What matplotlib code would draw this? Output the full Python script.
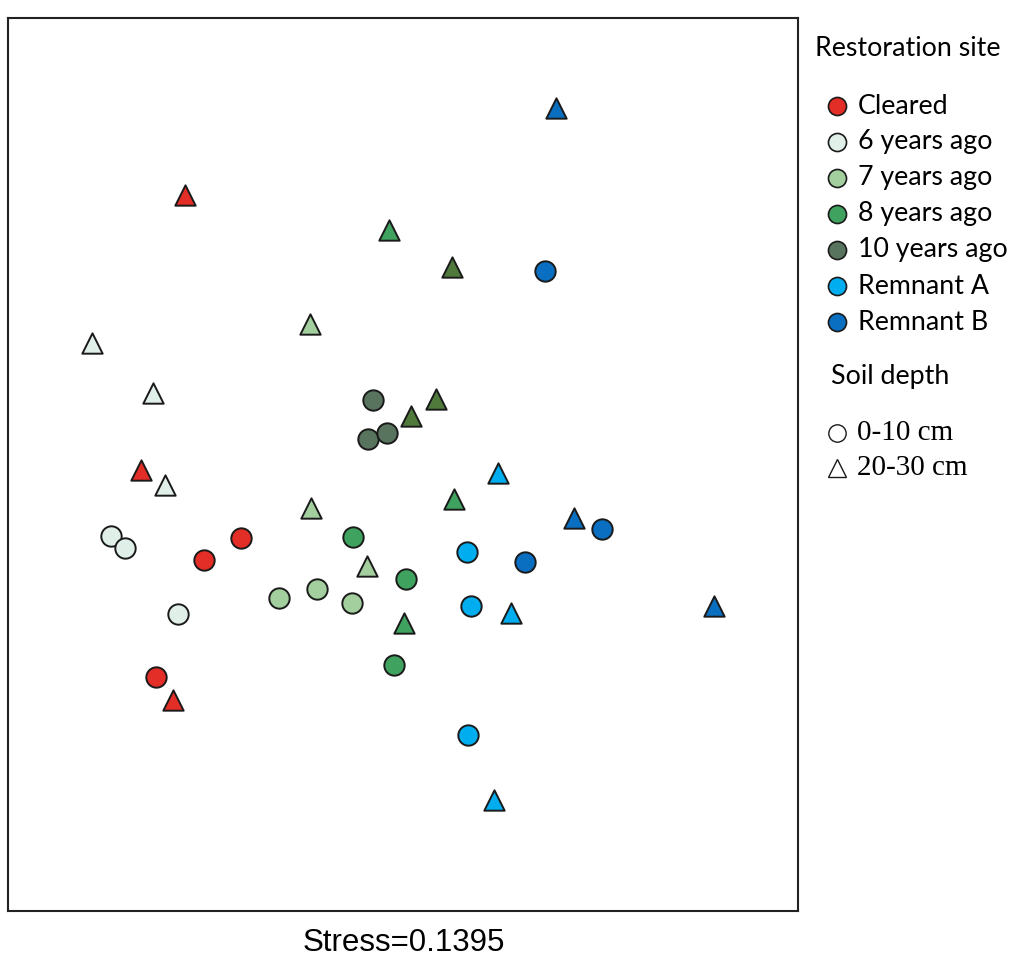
"""NMDS ordination of soil communities by restoration site and soil depth."""

import matplotlib
matplotlib.use("Agg")
import matplotlib.pyplot as plt
from matplotlib.lines import Line2D

sites = ["Cleared", "6 years ago", "7 years ago", "8 years ago",
         "10 years ago", "Remnant A", "Remnant B"]
depths = ["0-10 cm", "20-30 cm"]
stress = 0.1395

# NMDS scores, one list per site; first three are 0-10 cm, last three 20-30 cm
nmds1 = {
    "Cleared":      [-0.408, -0.500, -0.620, -0.548, -0.658, -0.578],
    "6 years ago":  [-0.733, -0.698, -0.565, -0.780, -0.628, -0.598],
    "7 years ago":  [-0.313, -0.218, -0.130, -0.235, -0.233, -0.093],
    "8 years ago":  [-0.128, 0.005, -0.025, -0.038, 0.125, 0.000],
    "10 years ago": [-0.078, -0.090, -0.043, 0.120, 0.018, 0.080],
    "Remnant A":    [0.158, 0.168, 0.160, 0.235, 0.268, 0.225],
    "Remnant B":    [0.353, 0.495, 0.303, 0.380, 0.425, 0.775],
}
nmds2 = {
    "Cleared":      [-0.185, -0.240, -0.533, 0.673, -0.015, -0.590],
    "6 years ago":  [-0.180, -0.210, -0.375, 0.303, 0.178, -0.053],
    "7 years ago":  [-0.335, -0.313, -0.348, 0.350, -0.110, -0.255],
    "8 years ago":  [-0.183, -0.288, -0.503, 0.585, -0.088, -0.398],
    "10 years ago": [0.160, 0.063, 0.078, 0.493, 0.120, 0.163],
    "Remnant A":    [-0.220, -0.355, -0.678, -0.023, -0.373, -0.840],
    "Remnant B":    [0.483, -0.163, -0.245, 0.890, -0.135, -0.355],
}
depth = ["0-10 cm"] * 3 + ["20-30 cm"] * 3

site_colors = {
    "Cleared": "#e32d27",
    "6 years ago": "#e1efe9",
    "7 years ago": "#a3cf9f",
    "8 years ago": "#40a25f",
    "10 years ago": "#59745e",
    "Remnant A": "#00aeef",
    "Remnant B": "#0a6fc0",
}
tri_colors = dict(site_colors)
tri_colors["10 years ago"] = "#507a3c"
depth_markers = {"0-10 cm": "o", "20-30 cm": "^"}

fig = plt.figure(figsize=(10.11, 9.61), dpi=100)
ax = fig.add_axes([0.0079, 0.052, 0.7815, 0.929])

for site in sites:
    for x, y, d in zip(nmds1[site], nmds2[site], depth):
        color = site_colors[site] if d == "0-10 cm" else tri_colors[site]
        ax.scatter(x, y, s=215, marker=depth_markers[d], c=color,
                   edgecolors="#1a1a1a", linewidths=1.4, zorder=3)

ax.set_xlim(-0.99, 0.985)
ax.set_ylim(-1.1175, 1.115)
ax.set_xticks([])
ax.set_yticks([])
for sp in ax.spines.values():
    sp.set_linewidth(1.5)
    sp.set_color("#222222")

fig.text(0.399, 0.019, f"Stress={stress}", ha="center", va="center",
         fontsize=22.5, family="Liberation Sans")

# legend drawn by hand in figure pixels
W, H = 1011, 961
sans = "Lato"
fig.text(815 / W, 1 - 48 / H, "Restoration site", ha="left", va="center",
         fontsize=19.3, family=sans)
for i, site in enumerate(sites):
    yy = 1 - (106 + 36 * i) / H
    fig.add_artist(Line2D([837 / W], [yy], transform=fig.transFigure,
                          marker="o", markersize=13, markerfacecolor=site_colors[site],
                          markeredgecolor="#1a1a1a", markeredgewidth=1.2, linestyle=""))
    fig.text(858 / W, yy, site, ha="left", va="center", fontsize=19.3, family=sans)

fig.text(831 / W, 1 - 376 / H, "Soil depth", ha="left", va="center",
         fontsize=19.3, family=sans)
for i, d in enumerate(depths):
    yy = 1 - (433 + 35 * i) / H
    fig.add_artist(Line2D([837 / W], [yy], transform=fig.transFigure,
                          marker=depth_markers[d], markersize=12.5, markerfacecolor="white",
                          markeredgecolor="#1a1a1a", markeredgewidth=1.0, linestyle=""))
    fig.text(857 / W, yy, d, ha="left", va="center", fontsize=21,
             family="Liberation Serif")

fig.savefig("out.png", dpi=100)
